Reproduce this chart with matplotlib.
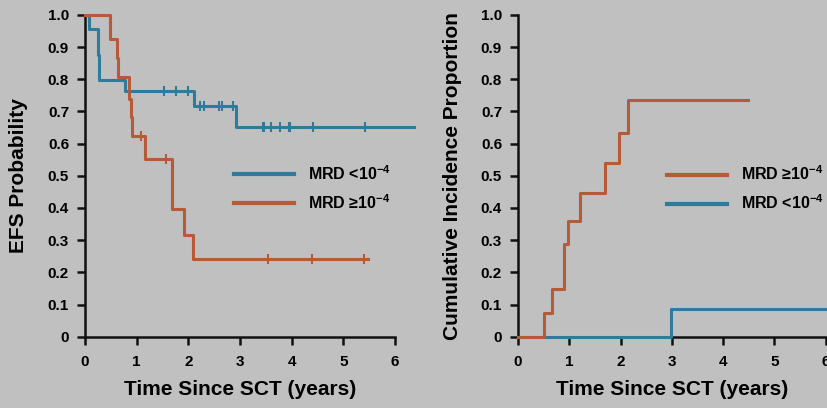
import numpy as np
import matplotlib
matplotlib.use("Agg")
import matplotlib.pyplot as plt
from matplotlib.lines import Line2D

plt.rcParams['font.family'] = ['Liberation Sans', 'DejaVu Sans']
plt.rcParams['font.weight'] = 'bold'
plt.rcParams['axes.labelweight'] = 'bold'
plt.rcParams['mathtext.default'] = 'regular'

BLUE = '#2e7b9c'
ORANGE = '#b65a38'
BG = '#c0c0c0'

# EFS curves (step times, probability after step)
efs_low_t = [0.0, 0.07, 0.245, 0.27, 0.774, 2.115, 2.915, 6.37]
efs_low_p = [1.0, 0.955, 0.876, 0.798, 0.765, 0.718, 0.653, 0.653]
efs_low_cens = [1.53, 1.76, 1.99, 2.23, 2.31, 2.6, 2.66, 2.86,
                3.44, 3.47, 3.6, 3.77, 3.95, 3.97, 4.42, 5.42]

efs_high_t = [0.0, 0.484, 0.613, 0.645, 0.85, 0.884, 0.91, 1.16, 1.68, 1.92, 2.096, 5.48]
efs_high_p = [1.0, 0.925, 0.867, 0.808, 0.738, 0.682, 0.624, 0.551, 0.396, 0.317, 0.241, 0.241]
efs_high_cens = [1.08, 1.57, 3.54, 4.39, 5.40]

# cumulative incidence of relapse
ci_high_t = [0.0, 0.51, 0.656, 0.897, 0.968, 1.2, 1.70, 1.97, 2.14, 4.49]
ci_high_p = [0.0, 0.075, 0.147, 0.287, 0.36, 0.446, 0.539, 0.634, 0.736, 0.736]
ci_low_t = [0.0, 2.98, 6.0]
ci_low_p = [0.0, 0.085, 0.085]

lbl_low = r'MRD <10$^{-4}$'
lbl_high = r'MRD ≥10$^{-4}$'

yticks = np.arange(0, 11) / 10.0
ylabels = ['0'] + ['%.1f' % v for v in yticks[1:]]
xticks = [0, 1, 2, 3, 4, 5, 6]


def step_at(t, p, x):
    i = np.searchsorted(t, x, side='right') - 1
    return np.array(p)[i]


def style_axes(ax):
    ax.set_facecolor(BG)
    ax.set_xlim(0, 6)
    ax.set_ylim(0, 1)
    ax.spines['top'].set_visible(False)
    ax.spines['right'].set_visible(False)
    for s in ['left', 'bottom']:
        ax.spines[s].set_linewidth(1.8)
        ax.spines[s].set_color('#111111')
    ax.set_yticks(yticks)
    ax.set_yticklabels(ylabels)
    ax.set_xticks(xticks)
    ax.tick_params(direction='out', length=6, width=1.8, labelsize=11, color='#111111')
    ax.tick_params(axis='y', pad=5.5)
    ax.tick_params(axis='x', pad=7)
    ax.set_xlabel('Time Since SCT (years)', fontsize=15, fontweight='bold')
    ax.xaxis.set_label_coords(0.5, -0.135)


def legend(ax, handles, labels, x, y):
    ax.legend(handles, labels, loc='center left', bbox_to_anchor=(x, y),
              frameon=False, fontsize=11.5, handlelength=3.75, handletextpad=0.9,
              labelspacing=0.64, borderpad=0, borderaxespad=0)


fig = plt.figure(figsize=(8.28, 4.08), dpi=100)
fig.patch.set_facecolor(BG)

ax1 = fig.add_axes([0.1027, 0.1748, 0.3744, 0.7885])
style_axes(ax1)
ax1.plot(efs_low_t, efs_low_p, drawstyle='steps-post', color=BLUE, lw=2.2,
         clip_on=False, zorder=3)
ax1.plot(efs_low_cens, step_at(efs_low_t, efs_low_p, efs_low_cens), '|',
         color=BLUE, ms=7, mew=1.5, zorder=3)
ax1.plot(efs_high_t, efs_high_p, drawstyle='steps-post', color=ORANGE, lw=2.2,
         clip_on=False, zorder=3)
ax1.plot(efs_high_cens, step_at(efs_high_t, efs_high_p, efs_high_cens), '|',
         color=ORANGE, ms=7, mew=1.5, zorder=3)
ax1.set_ylabel('EFS Probability', fontsize=15, fontweight='bold')
ax1.yaxis.set_label_coords(-0.184, 0.5)
legend(ax1, [Line2D([], [], color=BLUE, lw=3), Line2D([], [], color=ORANGE, lw=3)],
       [lbl_low, lbl_high], 0.48, 0.4625)

ax2 = fig.add_axes([0.6256, 0.1748, 0.3716, 0.7885])
style_axes(ax2)
ax2.plot(ci_low_t, ci_low_p, drawstyle='steps-post', color=BLUE, lw=2.2,
         clip_on=False, zorder=3)
ax2.plot(ci_high_t, ci_high_p, drawstyle='steps-post', color=ORANGE, lw=2.2,
         clip_on=False, zorder=3)
ax2.set_ylabel('Cumulative Incidence Proportion', fontsize=15, fontweight='bold')
ax2.yaxis.set_label_coords(-0.182, 0.5)
legend(ax2, [Line2D([], [], color=ORANGE, lw=3), Line2D([], [], color=BLUE, lw=3)],
       [lbl_high, lbl_low], 0.485, 0.461)

fig.savefig('out.png', dpi=100, facecolor=BG)
